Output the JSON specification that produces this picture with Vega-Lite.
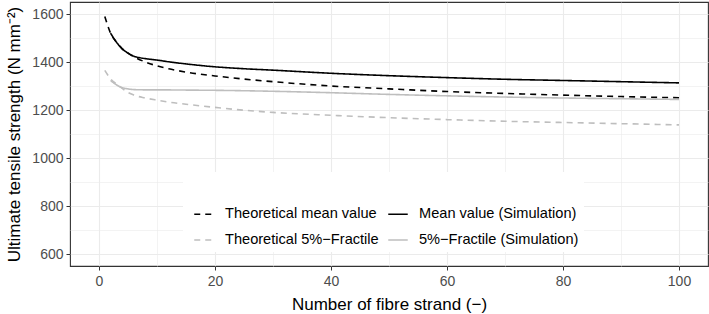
{
  "$schema": "https://vega.github.io/schema/vega-lite/v6.json",
  "width": 638,
  "height": 264,
  "autosize": "none",
  "padding": {"left": 70, "top": 2, "right": 1, "bottom": 48},
  "config": {
    "font": "Liberation Sans",
    "view": {"stroke": "#333333", "strokeWidth": 1.1},
    "axis": {
      "labelFont": "Liberation Sans",
      "titleFont": "Liberation Sans",
      "labelFontSize": 14,
      "titleFontSize": 17,
      "titleFontWeight": "normal",
      "labelColor": "#4d4d4d",
      "titleColor": "#000000",
      "tickColor": "#333333",
      "tickSize": 4,
      "domain": false,
      "gridColor": "#ebebeb"
    },
    "legend": {
      "labelFont": "Liberation Sans",
      "labelFontSize": 14.6,
      "labelColor": "#000000"
    }
  },
  "data": {
    "values": [
      {"n": 1, "s": "Theoretical mean value", "v": 1590},
      {"n": 2, "s": "Theoretical mean value", "v": 1520},
      {"n": 3, "s": "Theoretical mean value", "v": 1483},
      {"n": 4, "s": "Theoretical mean value", "v": 1455},
      {"n": 5, "s": "Theoretical mean value", "v": 1437},
      {"n": 6, "s": "Theoretical mean value", "v": 1422},
      {"n": 8, "s": "Theoretical mean value", "v": 1400},
      {"n": 10, "s": "Theoretical mean value", "v": 1384},
      {"n": 12, "s": "Theoretical mean value", "v": 1372},
      {"n": 15, "s": "Theoretical mean value", "v": 1358},
      {"n": 20, "s": "Theoretical mean value", "v": 1342},
      {"n": 25, "s": "Theoretical mean value", "v": 1329},
      {"n": 30, "s": "Theoretical mean value", "v": 1318},
      {"n": 40, "s": "Theoretical mean value", "v": 1300},
      {"n": 50, "s": "Theoretical mean value", "v": 1288},
      {"n": 60, "s": "Theoretical mean value", "v": 1277},
      {"n": 70, "s": "Theoretical mean value", "v": 1269},
      {"n": 80, "s": "Theoretical mean value", "v": 1262},
      {"n": 90, "s": "Theoretical mean value", "v": 1256},
      {"n": 100, "s": "Theoretical mean value", "v": 1251},
      {"n": 2, "s": "Mean value (Simulation)", "v": 1520},
      {"n": 3, "s": "Mean value (Simulation)", "v": 1483},
      {"n": 4, "s": "Mean value (Simulation)", "v": 1455},
      {"n": 5, "s": "Mean value (Simulation)", "v": 1437},
      {"n": 6, "s": "Mean value (Simulation)", "v": 1424},
      {"n": 7, "s": "Mean value (Simulation)", "v": 1418},
      {"n": 8, "s": "Mean value (Simulation)", "v": 1414},
      {"n": 10, "s": "Mean value (Simulation)", "v": 1408},
      {"n": 12, "s": "Mean value (Simulation)", "v": 1401},
      {"n": 15, "s": "Mean value (Simulation)", "v": 1392},
      {"n": 20, "s": "Mean value (Simulation)", "v": 1380},
      {"n": 25, "s": "Mean value (Simulation)", "v": 1372},
      {"n": 30, "s": "Mean value (Simulation)", "v": 1366},
      {"n": 40, "s": "Mean value (Simulation)", "v": 1353},
      {"n": 50, "s": "Mean value (Simulation)", "v": 1343},
      {"n": 60, "s": "Mean value (Simulation)", "v": 1335},
      {"n": 70, "s": "Mean value (Simulation)", "v": 1328},
      {"n": 80, "s": "Mean value (Simulation)", "v": 1323},
      {"n": 90, "s": "Mean value (Simulation)", "v": 1318},
      {"n": 100, "s": "Mean value (Simulation)", "v": 1313},
      {"n": 1, "s": "Theoretical 5%−Fractile", "v": 1365},
      {"n": 2, "s": "Theoretical 5%−Fractile", "v": 1330},
      {"n": 3, "s": "Theoretical 5%−Fractile", "v": 1309},
      {"n": 4, "s": "Theoretical 5%−Fractile", "v": 1290},
      {"n": 5, "s": "Theoretical 5%−Fractile", "v": 1273},
      {"n": 6, "s": "Theoretical 5%−Fractile", "v": 1262},
      {"n": 8, "s": "Theoretical 5%−Fractile", "v": 1250},
      {"n": 10, "s": "Theoretical 5%−Fractile", "v": 1241},
      {"n": 12, "s": "Theoretical 5%−Fractile", "v": 1233},
      {"n": 15, "s": "Theoretical 5%−Fractile", "v": 1224},
      {"n": 20, "s": "Theoretical 5%−Fractile", "v": 1211},
      {"n": 25, "s": "Theoretical 5%−Fractile", "v": 1199},
      {"n": 30, "s": "Theoretical 5%−Fractile", "v": 1190},
      {"n": 40, "s": "Theoretical 5%−Fractile", "v": 1178},
      {"n": 50, "s": "Theoretical 5%−Fractile", "v": 1168},
      {"n": 60, "s": "Theoretical 5%−Fractile", "v": 1160},
      {"n": 70, "s": "Theoretical 5%−Fractile", "v": 1153},
      {"n": 80, "s": "Theoretical 5%−Fractile", "v": 1148},
      {"n": 90, "s": "Theoretical 5%−Fractile", "v": 1143},
      {"n": 100, "s": "Theoretical 5%−Fractile", "v": 1138},
      {"n": 2, "s": "5%−Fractile (Simulation)", "v": 1323},
      {"n": 3, "s": "5%−Fractile (Simulation)", "v": 1305},
      {"n": 4, "s": "5%−Fractile (Simulation)", "v": 1293},
      {"n": 5, "s": "5%−Fractile (Simulation)", "v": 1288},
      {"n": 6, "s": "5%−Fractile (Simulation)", "v": 1285},
      {"n": 8, "s": "5%−Fractile (Simulation)", "v": 1284},
      {"n": 10, "s": "5%−Fractile (Simulation)", "v": 1284},
      {"n": 15, "s": "5%−Fractile (Simulation)", "v": 1283},
      {"n": 20, "s": "5%−Fractile (Simulation)", "v": 1282},
      {"n": 30, "s": "5%−Fractile (Simulation)", "v": 1278},
      {"n": 40, "s": "5%−Fractile (Simulation)", "v": 1272},
      {"n": 50, "s": "5%−Fractile (Simulation)", "v": 1265},
      {"n": 60, "s": "5%−Fractile (Simulation)", "v": 1259},
      {"n": 70, "s": "5%−Fractile (Simulation)", "v": 1254},
      {"n": 80, "s": "5%−Fractile (Simulation)", "v": 1250},
      {"n": 90, "s": "5%−Fractile (Simulation)", "v": 1247},
      {"n": 100, "s": "5%−Fractile (Simulation)", "v": 1244}
    ]
  },
  "mark": {"type": "line", "strokeWidth": 1.6, "interpolate": "monotone"},
  "encoding": {
    "x": {
      "field": "n",
      "type": "quantitative",
      "scale": {"domain": [-5, 105], "nice": false, "zero": false},
      "axis": {
        "title": "Number of fibre strand (−)",
        "values": [0, 10, 20, 30, 40, 50, 60, 70, 80, 90, 100],
        "labelExpr": "datum.value % 20 === 0 ? datum.label : ''",
        "tickOpacity": {"condition": {"test": "datum.value % 20 !== 0", "value": 0}, "value": 1},
        "gridWidth": {"condition": {"test": "datum.value % 20 !== 0", "value": 0.6}, "value": 1.1},
        "labelPadding": 4,
        "titlePadding": 8
      }
    },
    "y": {
      "field": "v",
      "type": "quantitative",
      "scale": {"domain": [550, 1650], "nice": false, "zero": false},
      "axis": {
        "title": "Ultimate tensile strength (N mm⁻²)",
        "values": [600, 700, 800, 900, 1000, 1100, 1200, 1300, 1400, 1500, 1600],
        "labelExpr": "datum.value % 200 === 0 ? datum.label : ''",
        "format": "d",
        "tickOpacity": {"condition": {"test": "datum.value % 200 !== 0", "value": 0}, "value": 1},
        "gridWidth": {"condition": {"test": "datum.value % 200 !== 0", "value": 0.6}, "value": 1.1},
        "labelPadding": 3,
        "titlePadding": 8
      }
    },
    "color": {
      "field": "s",
      "type": "nominal",
      "scale": {
        "domain": ["Theoretical mean value", "Theoretical 5%−Fractile", "Mean value (Simulation)", "5%−Fractile (Simulation)"],
        "range": ["#000000", "#bebebe", "#000000", "#bebebe"]
      },
      "legend": {
        "title": " ",
        "titleFontSize": 14,
        "titlePadding": 12,
        "orient": "none",
        "legendX": 113,
        "legendY": 170,
        "columns": 2,
        "columnPadding": 3,
        "rowPadding": 8,
        "padding": 5,
        "symbolOffset": 5,
        "fillColor": "#ffffff",
        "symbolType": "stroke",
        "symbolSize": 380,
        "symbolStrokeWidth": 1.6,
        "labelOffset": 10
      }
    },
    "strokeDash": {
      "field": "s",
      "type": "nominal",
      "scale": {
        "domain": ["Theoretical mean value", "Theoretical 5%−Fractile", "Mean value (Simulation)", "5%−Fractile (Simulation)"],
        "range": [[6, 5], [6, 5], [1, 0], [1, 0]]
      },
      "legend": null
    }
  }
}
